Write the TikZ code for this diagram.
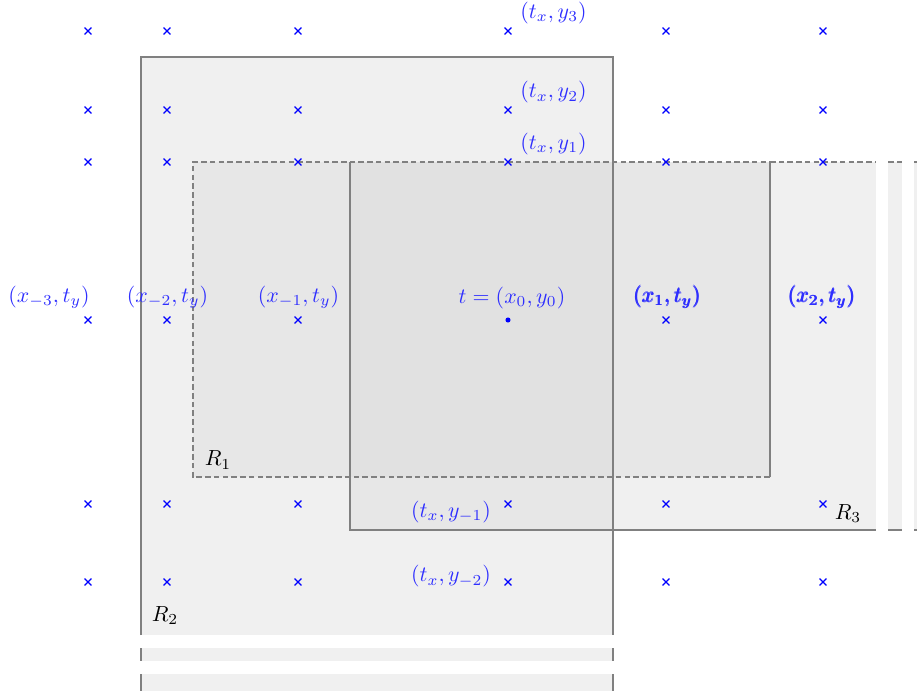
\documentclass[tikz,border=0pt]{standalone}
\usepackage{amsmath}
\usepackage{amssymb}
\usepackage{tikz}
\usepackage{xcolor}
\usetikzlibrary{shapes.misc}

\begin{document}
\begin{tikzpicture}[
			 x=0.4348pt, y=-0.4348pt,
			 cruz/.style={cross out, draw=blue, line width=0.5pt, minimum size=2.5pt, inner sep=0pt},
			 punto/.style={circle, fill=blue, minimum size=2.2pt, inner sep=0pt},
			 etiqueta/.style={text=blue!82, inner sep=0pt, scale=0.95},
			 nombre/.style={inner sep=0pt, scale=0.95},
			 region/.style={fill=black!15, fill opacity=0.4},
			 borde/.style={draw=gray, line width=0.5pt},
			 bordedisc/.style={borde, dash pattern=on 2.4pt off 1.4pt}
  		]
	\useasboundingbox (0,0) rectangle (917,691);

	%Rellenos de las regiones
		\fill[region] (141,57) rectangle (613,635);
		\fill[region] (141,648) rectangle (613,661);
		\fill[region] (141,674) rectangle (613,691);
		\fill[region] (193,162) rectangle (770,477);
		\fill[region] (350,162) rectangle (876,530);
		\fill[region] (888,162) rectangle (902,530);
		\fill[region] (914,162) rectangle (917,530);
	%Bordes de R2 (sigue hacia abajo)
		\draw[borde] (141,635) -- (141,57) -- (613,57) -- (613,635);
		\draw[borde] (141,648) -- (141,661);
		\draw[borde] (613,648) -- (613,661);
		\draw[borde] (141,674) -- (141,691);
		\draw[borde] (613,674) -- (613,691);
	%Bordes de R1
		\draw[bordedisc] (770,477) -- (193,477) -- (193,162) -- (770,162);
		\draw[borde] (770,162) -- (770,477);
	%Bordes de R3 (sigue hacia la derecha)
		\draw[borde] (350,162) -- (350,530) -- (876,530);
		\draw[bordedisc] (770,162) -- (876,162);
		\draw[borde] (888,530) -- (902,530);
		\draw[bordedisc] (888,162) -- (902,162);
		\draw[borde] (914,530) -- (917,530);
		\draw[bordedisc] (914,162) -- (917,162);

	%Fila y3
		\node[cruz] (xm3-y3) at (88,31) {};
		\node[cruz] (xm2-y3) at (167,31) {};
		\node[cruz] (xm1-y3) at (298,31) {};
		\node[cruz] (x0-y3) at (508,31) {};
		\node[cruz] (x1-y3) at (666,31) {};
		\node[cruz] (x2-y3) at (823,31) {};
	%Fila y2
		\node[cruz] (xm3-y2) at (88,110) {};
		\node[cruz] (xm2-y2) at (167,110) {};
		\node[cruz] (xm1-y2) at (298,110) {};
		\node[cruz] (x0-y2) at (508,110) {};
		\node[cruz] (x1-y2) at (666,110) {};
		\node[cruz] (x2-y2) at (823,110) {};
	%Fila y1
		\node[cruz] (xm3-y1) at (88,162) {};
		\node[cruz] (xm2-y1) at (167,162) {};
		\node[cruz] (xm1-y1) at (298,162) {};
		\node[cruz] (x0-y1) at (508,162) {};
		\node[cruz] (x1-y1) at (666,162) {};
		\node[cruz] (x2-y1) at (823,162) {};
	%Fila y0, con el punto t
		\node[cruz] (xm3-y0) at (88,320) {};
		\node[cruz] (xm2-y0) at (167,320) {};
		\node[cruz] (xm1-y0) at (298,320) {};
		\node[punto] (x0-y0) at (508,320) {};
		\node[cruz] (x1-y0) at (666,320) {};
		\node[cruz] (x2-y0) at (823,320) {};
	%Fila y-1
		\node[cruz] (xm3-ym1) at (88,504) {};
		\node[cruz] (xm2-ym1) at (167,504) {};
		\node[cruz] (xm1-ym1) at (298,504) {};
		\node[cruz] (x0-ym1) at (508,504) {};
		\node[cruz] (x1-ym1) at (666,504) {};
		\node[cruz] (x2-ym1) at (823,504) {};
	%Fila y-2
		\node[cruz] (xm3-ym2) at (88,582) {};
		\node[cruz] (xm2-ym2) at (167,582) {};
		\node[cruz] (xm1-ym2) at (298,582) {};
		\node[cruz] (x0-ym2) at (508,582) {};
		\node[cruz] (x1-ym2) at (666,582) {};
		\node[cruz] (x2-ym2) at (823,582) {};

	%Etiquetas de los puntos
		\node[etiqueta] (lxm3) at (49,297) {$(x_{-3},t_y)$};
		\node[etiqueta] (lxm2) at (167.5,297) {$(x_{-2},t_y)$};
		\node[etiqueta] (lxm1) at (298.5,297) {$(x_{-1},t_y)$};
		\node[etiqueta] (lt) at (512,298) {$t=(x_0,y_0)$};
		\node[etiqueta] (lx1) at (667.5,297) {$\pmb{(x_1,t_y)}$};
		\node[etiqueta] (lx2) at (822,297) {$\pmb{(x_2,t_y)}$};
		\node[etiqueta] (ly3) at (553.5,13) {$(t_x,y_3)$};
		\node[etiqueta] (ly2) at (553.5,92.5) {$(t_x,y_2)$};
		\node[etiqueta] (ly1) at (553.5,144) {$(t_x,y_1)$};
		\node[etiqueta] (lym1) at (451,512) {$(t_x,y_{-1})$};
		\node[etiqueta] (lym2) at (451,576.5) {$(t_x,y_{-2})$};
	%Nombres de las regiones
		\node[nombre] (r1) at (218,460) {$R_1$};
		\node[nombre] (r2) at (165,615.5) {$R_2$};
		\node[nombre] (r3) at (848,513.5) {$R_3$};

	\end{tikzpicture}
\end{document}
